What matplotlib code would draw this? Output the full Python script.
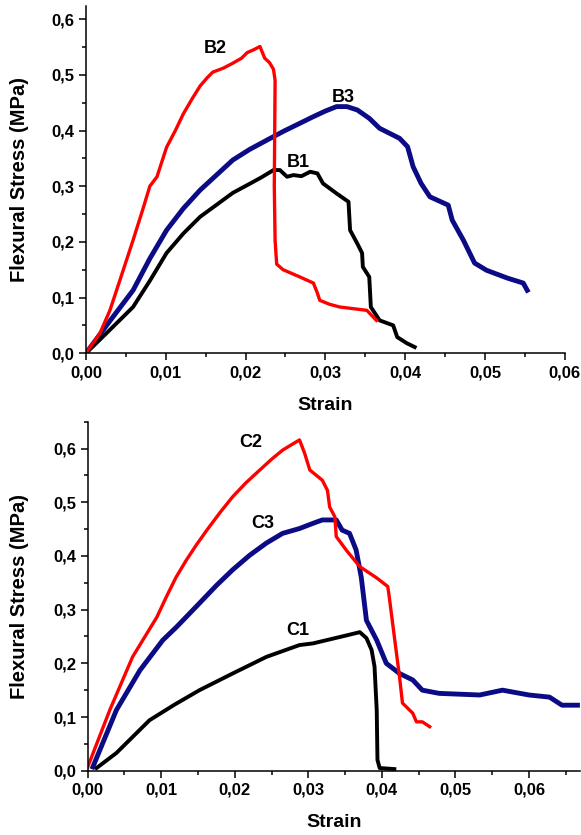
import matplotlib.pyplot as plt
from matplotlib.ticker import FuncFormatter, MultipleLocator

plt.rcParams['font.family'] = ['Liberation Sans', 'DejaVu Sans']
plt.rcParams['font.weight'] = 'bold'

# ---------------------------------------------------------
# Data
# ---------------------------------------------------------

# Top panel: B series
b2_strain = [0.0, 0.00175, 0.003, 0.0045, 0.0059, 0.0072, 0.008, 0.0089, 0.0101, 0.0112,
             0.0122, 0.0133, 0.0143, 0.0152, 0.0159, 0.0172, 0.0184, 0.0195, 0.0202, 0.021,
             0.0218, 0.0224, 0.023, 0.0235, 0.0237, 0.0236, 0.0237, 0.0239, 0.0247, 0.0268,
             0.0285, 0.029, 0.0293, 0.0305, 0.0318, 0.0335, 0.0352, 0.0364]
b2_stress = [0.0, 0.036, 0.077, 0.142, 0.203, 0.262, 0.300, 0.317, 0.370, 0.400,
             0.430, 0.457, 0.480, 0.495, 0.505, 0.512, 0.521, 0.530, 0.540, 0.545,
             0.551, 0.530, 0.522, 0.510, 0.490, 0.300, 0.203, 0.160, 0.150, 0.137,
             0.126, 0.108, 0.095, 0.088, 0.083, 0.080, 0.077, 0.059]

b1_strain = [0.0, 0.003, 0.0059, 0.008, 0.0101, 0.0122, 0.0143, 0.0165, 0.0184, 0.0206,
             0.022, 0.0235, 0.0243, 0.0252, 0.026, 0.027, 0.0281, 0.029, 0.0297, 0.0314,
             0.0329, 0.0331, 0.034, 0.0346, 0.0347, 0.0355, 0.0357, 0.0368, 0.0385, 0.039,
             0.0402, 0.0412]
b1_stress = [0.0, 0.042, 0.083, 0.130, 0.180, 0.215, 0.245, 0.268, 0.288, 0.305,
             0.316, 0.329, 0.329, 0.317, 0.320, 0.318, 0.326, 0.323, 0.305, 0.287,
             0.272, 0.221, 0.197, 0.180, 0.155, 0.137, 0.083, 0.059, 0.050, 0.029,
             0.018, 0.011]

b3_strain = [0.0, 0.003, 0.0059, 0.008, 0.0101, 0.0122, 0.0143, 0.0165, 0.0184, 0.0205,
             0.0227, 0.0248, 0.0268, 0.0285, 0.03, 0.0314, 0.0327, 0.034, 0.0355, 0.0368,
             0.0393, 0.0403, 0.041, 0.042, 0.0431, 0.0454, 0.0459, 0.0473, 0.0487, 0.0502,
             0.0528, 0.0548, 0.0553]
b3_stress = [0.0, 0.058, 0.113, 0.170, 0.221, 0.260, 0.293, 0.322, 0.347, 0.366,
             0.383, 0.399, 0.413, 0.425, 0.435, 0.443, 0.443, 0.437, 0.422, 0.404,
             0.386, 0.371, 0.335, 0.305, 0.281, 0.266, 0.239, 0.203, 0.162, 0.149,
             0.135, 0.126, 0.113]

# Bottom panel: C series
c2_strain = [0.0, 0.003, 0.0061, 0.0094, 0.0107, 0.012, 0.0134, 0.0148, 0.0162, 0.018,
             0.0197, 0.0215, 0.0234, 0.025, 0.0265, 0.0277, 0.0288, 0.0295, 0.0302, 0.0319,
             0.0326, 0.0329, 0.0336, 0.0338, 0.0352, 0.037, 0.0393, 0.0408, 0.041, 0.0417,
             0.0424, 0.0428, 0.0442, 0.0447, 0.0455, 0.0465]
c2_stress = [0.007, 0.113, 0.212, 0.286, 0.324, 0.360, 0.392, 0.421, 0.448, 0.481,
             0.510, 0.536, 0.560, 0.580, 0.597, 0.607, 0.616, 0.591, 0.560, 0.541,
             0.522, 0.491, 0.473, 0.436, 0.410, 0.380, 0.359, 0.343, 0.324, 0.249,
             0.175, 0.126, 0.107, 0.091, 0.091, 0.082]

c3_strain = [0.0007, 0.0039, 0.0071, 0.0102, 0.0121, 0.0152, 0.0175, 0.0197, 0.022, 0.0243,
             0.0265, 0.0288, 0.0305, 0.0319, 0.0338, 0.0346, 0.0356, 0.0365, 0.0372, 0.0379,
             0.0393, 0.0406, 0.0424, 0.0442, 0.0455, 0.0478, 0.0533, 0.0564, 0.06, 0.0628,
             0.0645, 0.0666]
c3_stress = [0.007, 0.113, 0.187, 0.243, 0.268, 0.312, 0.345, 0.374, 0.401, 0.424,
             0.442, 0.451, 0.460, 0.467, 0.467, 0.448, 0.442, 0.411, 0.360, 0.280,
             0.243, 0.200, 0.181, 0.169, 0.150, 0.144, 0.141, 0.150, 0.141, 0.137,
             0.122, 0.122]

c1_strain = [0.0012, 0.0039, 0.0084, 0.0118, 0.0152, 0.0197, 0.0243, 0.0288, 0.0306, 0.0352,
             0.037, 0.0379, 0.0386, 0.039, 0.0393, 0.0394, 0.0397, 0.0417]
c1_stress = [0.005, 0.033, 0.094, 0.123, 0.150, 0.181, 0.212, 0.234, 0.237, 0.252,
             0.258, 0.247, 0.225, 0.194, 0.113, 0.020, 0.005, 0.003]

RED = '#ff0000'
NAVY = '#0b0b85'
BLACK = '#000000'

fig = plt.figure(figsize=(5.81, 8.35), dpi=100)
ax1 = fig.add_axes([0.148, 0.577, 0.824, 0.416])
ax2 = fig.add_axes([0.151, 0.077, 0.848, 0.418])


def style_axes(ax, xmax, ymax):
    ax.set_xlim(0, xmax)
    ax.set_ylim(0, ymax)
    for s in ['top', 'right']:
        ax.spines[s].set_visible(False)
    for s in ['left', 'bottom']:
        ax.spines[s].set_linewidth(1.1)
    ax.xaxis.set_major_locator(MultipleLocator(0.01))
    ax.xaxis.set_minor_locator(MultipleLocator(0.005))
    ax.yaxis.set_major_locator(MultipleLocator(0.1))
    ax.yaxis.set_minor_locator(MultipleLocator(0.05))
    ax.xaxis.set_major_formatter(FuncFormatter(lambda v, p: f"{v:.2f}".replace('.', ',')))
    ax.yaxis.set_major_formatter(FuncFormatter(lambda v, p: f"{v:.1f}".replace('.', ',')))
    ax.tick_params(which='major', direction='out', length=5, width=1.1, labelsize=12)
    ax.tick_params(which='minor', direction='out', length=3, width=1.1)
    ax.set_xlabel("Strain", fontsize=14, fontweight='bold', labelpad=12)
    ax.set_ylabel("Flexural Stress (MPa)", fontsize=14.5, fontweight='bold')


ax1.plot(b3_strain, b3_stress, color=NAVY, lw=3.5)
ax1.plot(b1_strain, b1_stress, color=BLACK, lw=2.8)
ax1.plot(b2_strain, b2_stress, color=RED, lw=2.4)
ax1.text(0.0162, 0.548, "B2", fontsize=13, fontweight='bold', ha='center', va='center')
ax1.text(0.0322, 0.460, "B3", fontsize=13, fontweight='bold', ha='center', va='center')
ax1.text(0.0266, 0.342, "B1", fontsize=13, fontweight='bold', ha='center', va='center')
style_axes(ax1, 0.06, 0.624)
ax1.yaxis.set_label_coords(-0.12, 0.5)

ax2.plot(c3_strain, c3_stress, color=NAVY, lw=3.5)
ax2.plot(c1_strain, c1_stress, color=BLACK, lw=2.8)
ax2.plot(c2_strain, c2_stress, color=RED, lw=2.4)
ax2.text(0.0222, 0.612, "C2", fontsize=13, fontweight='bold', ha='center', va='center')
ax2.text(0.0238, 0.460, "C3", fontsize=13, fontweight='bold', ha='center', va='center')
ax2.text(0.0286, 0.262, "C1", fontsize=13, fontweight='bold', ha='center', va='center')
style_axes(ax2, 0.067, 0.65)
ax2.yaxis.set_label_coords(-0.12, 0.5)

fig.savefig("out.png", dpi=100)
